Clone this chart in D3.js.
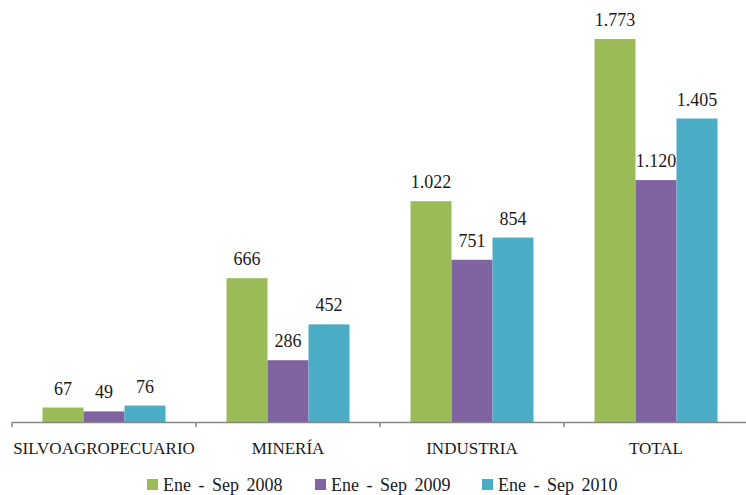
<!DOCTYPE html>
<html><head><meta charset="utf-8">
<script src="https://cdn.jsdelivr.net/npm/d3@7"></script>
<style>body{margin:0;background:#fff}svg{display:block}</style>
</head><body><svg id="c" width="746" height="495" font-family="'Liberation Serif', 'DejaVu Serif', 'Times New Roman', serif"></svg>
<script>
const categories = ["SILVOAGROPECUARIO", "MINERÍA", "INDUSTRIA", "TOTAL"];
const seriesNames = ["Ene - Sep 2008", "Ene - Sep 2009", "Ene - Sep 2010"];
const s2008 = [67, 666, 1022, 1773];
const s2009 = [49, 286, 751, 1120];
const s2010 = [76, 452, 854, 1405];
const colors = ["#9BBB59", "#8064A2", "#4BACC6"];

const series = [s2008, s2009, s2010];
const svg = d3.select("#c");
const base = 422;
const x = d3.scaleBand().domain(categories).range([12, 748]).paddingInner(0).paddingOuter(0);
const y = d3.scaleLinear().domain([0, 2000]).range([base, base - 432]);
const inner = d3.scaleBand().domain(d3.range(3)).range([30.5, x.bandwidth() - 30.5]);
const fmt = d3.formatLocale({decimal: ",", thousands: ".", grouping: [3], currency: ["", ""]}).format(",d");
const txt = "#1a1a1a";

const g = svg.append("g");
categories.forEach((c, ci) => {
  series.forEach((s, si) => {
    const x0 = x(c) + inner(si);
    g.append("rect").attr("x", x0).attr("y", y(s[ci])).attr("width", inner.bandwidth())
      .attr("height", base - y(s[ci])).attr("fill", colors[si]);
    g.append("text").attr("x", x0 + inner.bandwidth() / 2).attr("y", y(s[ci]) - 13)
      .attr("text-anchor", "middle").attr("font-size", 18).attr("fill", txt).text(fmt(s[ci]));
  });
});

// axis
const axis = d3.axisBottom(x).tickSize(0).tickFormat("");
const ax = svg.append("g").attr("transform", `translate(0,${base})`).call(axis);
ax.select(".domain").attr("stroke", "#868686").attr("stroke-width", 1.5);
const bounds = categories.map(c => x(c)).concat([x.range()[1]]);
svg.selectAll(".tk").data(bounds).enter().append("line")
  .attr("x1", d => d).attr("x2", d => d).attr("y1", base).attr("y2", base + 5)
  .attr("stroke", "#868686").attr("stroke-width", 1.5);
svg.selectAll(".cl").data(categories).enter().append("text")
  .attr("x", d => x(d) + x.bandwidth() / 2).attr("y", 454).attr("text-anchor", "middle")
  .attr("font-size", 17).attr("fill", txt).text(d => d);

// legend
const lx = [147, 315, 482];
seriesNames.forEach((n, i) => {
  svg.append("rect").attr("x", lx[i]).attr("y", 479).attr("width", 11).attr("height", 11).attr("fill", colors[i]);
  svg.append("text").attr("x", lx[i] + 16).attr("y", 491).attr("font-size", 18)
    .attr("word-spacing", 3).attr("fill", txt).text(n);
});
</script></body></html>
